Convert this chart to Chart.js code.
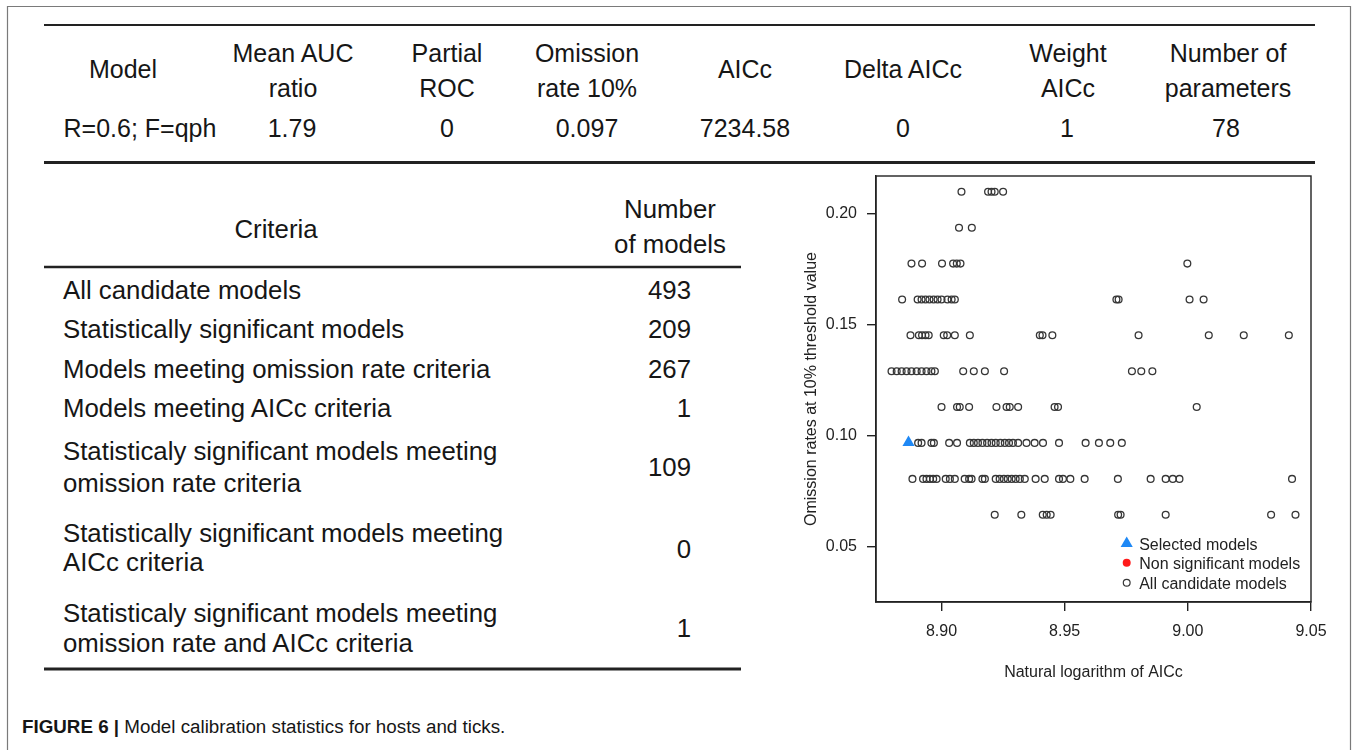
<!DOCTYPE html>
<html><head><meta charset="utf-8">
<script src="https://cdn.jsdelivr.net/npm/chart.js@4"></script>
<style>
html,body{margin:0;padding:0;background:#fff;width:1357px;height:750px;overflow:hidden;}
#fig{position:absolute;left:0;top:0;}
#plotwrap{position:absolute;left:776px;top:166px;width:560px;height:530px;}
svg text{font-family:"Liberation Sans",Arial,Helvetica,sans-serif;fill:#161616;}
</style></head><body>
<svg id="fig" width="1357" height="750" xmlns="http://www.w3.org/2000/svg"></svg>
<div id="plotwrap"><canvas id="c" width="560" height="530"></canvas></div>
<script>
// ---------- table data ----------
const modelHeaders = [["Model"], ["Mean AUC","ratio"], ["Partial","ROC"], ["Omission","rate 10%"], ["AICc"], ["Delta AICc"], ["Weight","AICc"], ["Number of","parameters"]];
const modelValues = ["R=0.6; F=qph", "1.79", "0", "0.097", "7234.58", "0", "1", "78"];
const criteriaHeader = ["Criteria"];
const countHeader = ["Number", "of models"];
const criteria = [
  ["All candidate models"],
  ["Statistically significant models"],
  ["Models meeting omission rate criteria"],
  ["Models meeting AICc criteria"],
  ["Statisticaly significant models meeting", "omission rate criteria"],
  ["Statistically significant models meeting", "AICc criteria"],
  ["Statisticaly significant models meeting", "omission rate and AICc criteria"]
];
const modelCounts = ["493", "209", "267", "1", "109", "0", "1"];
const captionBold = "FIGURE 6 | ";
const captionText = "Model calibration statistics for hosts and ticks.";

// ---------- scatter data (ln AICc per omission-rate level) ----------
const omissionLevels = [0.2097, 0.1935, 0.1774, 0.1613, 0.1452, 0.1290, 0.1129, 0.0968, 0.0806, 0.0645];
const lnAICc_om2097 = [8.9081, 8.9189, 8.9203, 8.9216, 8.9250];
const lnAICc_om1935 = [8.9071, 8.9123];
const lnAICc_om1774 = [8.8878, 8.8921, 8.9002, 8.9047, 8.9062, 8.9077, 8.9998];
const lnAICc_om1613 = [8.8840, 8.8903, 8.8919, 8.8935, 8.8951, 8.8968, 8.8984, 8.9000, 8.9024, 8.9041, 8.9054, 8.9710, 8.9719, 9.0007, 9.0064];
const lnAICc_om1452 = [8.8874, 8.8908, 8.8921, 8.8935, 8.8948, 8.9009, 8.9023, 8.9054, 8.9115, 8.9399, 8.9410, 8.9450, 8.9800, 9.0085, 9.0227, 9.0410];
const lnAICc_om1290 = [8.8797, 8.8818, 8.8838, 8.8858, 8.8878, 8.8899, 8.8919, 8.8939, 8.8959, 8.8973, 8.9088, 8.9131, 8.9176, 8.9254, 8.9773, 8.9811, 8.9856];
const lnAICc_om1129 = [8.9000, 8.9063, 8.9074, 8.9112, 8.9223, 8.9264, 8.9277, 8.9311, 8.9459, 8.9473, 9.0036];
const lnAICc_om0968 = [8.8905, 8.8919, 8.8959, 8.8969, 8.9031, 8.9063, 8.9115, 8.9131, 8.9148, 8.9166, 8.9185, 8.9203, 8.9220, 8.9239, 8.9257, 8.9274, 8.9290, 8.9311, 8.9345, 8.9378, 8.9412, 8.9477, 8.9585, 8.9639, 8.9685, 8.9732];
const lnAICc_om0806 = [8.8882, 8.8925, 8.8939, 8.8953, 8.8966, 8.8980, 8.9017, 8.9034, 8.9054, 8.9094, 8.9112, 8.9122, 8.9166, 8.9176, 8.9220, 8.9236, 8.9253, 8.9269, 8.9285, 8.9301, 8.9318, 8.9338, 8.9382, 8.9419, 8.9477, 8.9493, 8.9523, 8.9581, 8.9716, 8.9849, 8.9910, 8.9939, 8.9966, 9.0423];
const lnAICc_om0645 = [8.9216, 8.9324, 8.9411, 8.9427, 8.9443, 8.9717, 8.9727, 8.9910, 9.0338, 9.0437];
const candidateRows = [lnAICc_om2097, lnAICc_om1935, lnAICc_om1774, lnAICc_om1613, lnAICc_om1452, lnAICc_om1290, lnAICc_om1129, lnAICc_om0968, lnAICc_om0806, lnAICc_om0645];
const selectedLnAICc = [8.8866];
const selectedOmission = [0.097];
const nonSigLnAICc = [];
const nonSigOmission = [];
const xTickValues = [8.90, 8.95, 9.00, 9.05];
const yTickValues = [0.05, 0.10, 0.15, 0.20];
const seriesLabels = ["Selected models", "Non significant models", "All candidate models"];

// ---------- SVG tables ----------
const NS = 'http://www.w3.org/2000/svg';
const svg = document.getElementById('fig');
function ln(x1,y1,x2,y2,w,c){const e=document.createElementNS(NS,'line');e.setAttribute('x1',x1);e.setAttribute('y1',y1);e.setAttribute('x2',x2);e.setAttribute('y2',y2);e.setAttribute('stroke',c);e.setAttribute('stroke-width',w);svg.appendChild(e);}
function tx(str,x,y,size,anchor){const e=document.createElementNS(NS,'text');e.setAttribute('x',x);e.setAttribute('y',y);e.setAttribute('font-size',size);e.setAttribute('text-anchor',anchor||'middle');e.textContent=str;svg.appendChild(e);return e;}

// frame
ln(7.5,6.5,1350.5,6.5,1.2,'#7a7a7a');
ln(7.5,6,7.5,750,1.2,'#7a7a7a');
ln(1350.5,6,1350.5,750,1.2,'#7a7a7a');

// top table
const headCenters = [123, 293, 447, 587, 745, 903, 1068, 1228];
const valueCenters = [140, 292, 447, 587, 745, 903, 1067, 1226];
ln(44,25,1315,25,2,'#222');
ln(44,162.5,1315,162.5,3,'#222');
modelHeaders.forEach((h,i)=>{
  if(h.length===1){tx(h[0],headCenters[i],78,25);}
  else{tx(h[0],headCenters[i],62,25);tx(h[1],headCenters[i],96.5,25);}
  tx(modelValues[i],valueCenters[i],136.5,25);
});

// lower table
const LT = 25.8;
ln(44,267,741,267,2.5,'#222');
ln(44,669,741,669,3,'#222');
tx(criteriaHeader[0],276,238,LT);
tx(countHeader[0],670,218,LT);
tx(countHeader[1],670,253,LT);
const critBaselines = [[299],[338],[378],[417],[460,491.5],[541.5,571],[621.5,651.5]];
const countBaselines = [299,338,378,417,476,557.5,637];
criteria.forEach((c,i)=>{
  c.forEach((s,j)=>tx(s,63,critBaselines[i][j],LT,'start'));
  tx(modelCounts[i],691,countBaselines[i],LT,'end');
});

// caption
const cap = tx('',22,733,18.8,'start');
const b = document.createElementNS(NS,'tspan');b.setAttribute('font-weight','bold');b.textContent=captionBold;cap.appendChild(b);
const r = document.createElementNS(NS,'tspan');r.textContent=captionText;cap.appendChild(r);

// ---------- chart ----------
const candidatePoints = [];
candidateRows.forEach((row,i)=>row.forEach(x=>candidatePoints.push({x:x,y:omissionLevels[i]})));
const selectedPoints = selectedLnAICc.map((x,i)=>({x:x,y:selectedOmission[i]}));
const nonSigPoints = nonSigLnAICc.map((x,i)=>({x:x,y:nonSigOmission[i]}));

const FONT = '"Liberation Sans", Arial, Helvetica, sans-serif';

const boxPlugin = {
  id:'box',
  afterDatasetsDraw(chart){
    const {ctx, chartArea:a} = chart;
    ctx.save();ctx.strokeStyle='#222';ctx.lineWidth=1.4;
    ctx.strokeRect(a.left,a.top,a.right-a.left,a.bottom-a.top);
    ctx.restore();
  },
  afterDraw(chart){
    const {ctx, chartArea:a} = chart;
    const sx = a.left + 250.7;
    const rows = [367.5, 386.7, 406.7];
    chart.data.datasets.forEach((ds,i)=>{
      const y = a.top + rows[i];
      ctx.save();
      if(ds.pointStyle==='triangle'){
        const rr=7;
        ctx.beginPath();
        ctx.moveTo(sx, y - rr);
        ctx.lineTo(sx + rr*Math.sqrt(3)/2, y + rr/2);
        ctx.lineTo(sx - rr*Math.sqrt(3)/2, y + rr/2);
        ctx.closePath();
        ctx.fillStyle=ds.backgroundColor;ctx.fill();
      } else if(ds.legendFill){
        ctx.beginPath();ctx.arc(sx,y,4,0,Math.PI*2);ctx.fillStyle=ds.legendFill;ctx.fill();
      } else {
        ctx.beginPath();ctx.arc(sx,y,3.4,0,Math.PI*2);ctx.strokeStyle=ds.borderColor;ctx.lineWidth=1.2;ctx.stroke();
      }
      ctx.fillStyle='#222';ctx.font='16px '+FONT;ctx.textBaseline='alphabetic';ctx.textAlign='left';
      ctx.fillText(ds.label, sx+12.5, y+6.5);
      ctx.restore();
    });
  }
};

new Chart(document.getElementById('c'), {
  type:'scatter',
  data:{datasets:[
    {label:seriesLabels[0], data:selectedPoints, pointStyle:'triangle', pointRadius:7, pointHoverRadius:7, backgroundColor:'#1e88f5', borderColor:'#1e88f5', borderWidth:0},
    {label:seriesLabels[1], data:nonSigPoints, pointStyle:'circle', pointRadius:4, backgroundColor:'#ff0000', borderColor:'#ff0000', legendFill:'#ff1a1a'},
    {label:seriesLabels[2], data:candidatePoints, pointStyle:'circle', pointRadius:3.4, pointHoverRadius:3.4, backgroundColor:'rgba(0,0,0,0)', borderColor:'#363636', borderWidth:1.3}
  ]},
  options:{
    responsive:false, devicePixelRatio:1, animation:false,
    layout:{padding:{top:10,right:25,left:0,bottom:0}},
    plugins:{legend:{display:false}, tooltip:{enabled:false}},
    scales:{
      x:{type:'linear', min:8.8734, max:9.05,
        afterBuildTicks:(s)=>{s.ticks=xTickValues.map(v=>({value:v}));},
        afterFit:(s)=>{s.height=94;s.paddingLeft=0;s.paddingRight=0;},
        ticks:{callback:(v)=>Number(v).toFixed(2), font:{size:16,family:FONT}, color:'#222', padding:11, maxRotation:0, autoSkip:false},
        grid:{drawOnChartArea:false, drawTicks:true, tickLength:9, color:'#222', lineWidth:1.4},
        border:{display:true, color:'#222', width:1.4},
        title:{display:true, text:'Natural logarithm of AICc', font:{size:16,family:FONT}, color:'#222', padding:{top:0,bottom:14}}
      },
      y:{type:'linear', min:0.02525, max:0.2168,
        afterBuildTicks:(s)=>{s.ticks=yTickValues.map(v=>({value:v}));},
        afterFit:(s)=>{s.width=100;s.paddingTop=0;s.paddingBottom=0;},
        ticks:{callback:(v)=>Number(v).toFixed(2), font:{size:16,family:FONT}, color:'#222', padding:10, autoSkip:false},
        grid:{drawOnChartArea:false, drawTicks:true, tickLength:9, color:'#222', lineWidth:1.4},
        border:{display:true, color:'#222', width:1.4},
        title:{display:true, text:'Omission rates at 10% threshold value', font:{size:16,family:FONT}, color:'#222', padding:{top:26,bottom:0}}
      }
    }
  },
  plugins:[boxPlugin]
});
</script>
</body></html>
